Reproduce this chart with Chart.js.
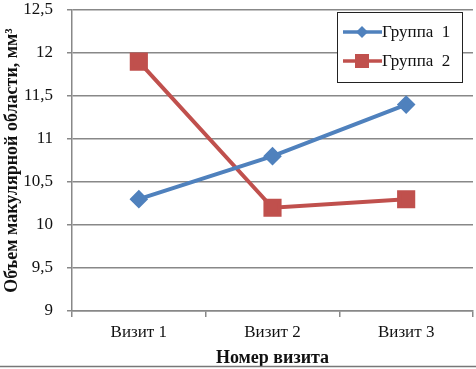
<!DOCTYPE html>
<html lang="ru">
<head>
    <meta charset="UTF-8">
    <title>Объем макулярной области</title>
    <style>
        html, body { margin: 0; padding: 0; background: #fff; }
        #wrap { width: 476px; height: 369px; }
    </style>
</head>
<body>
    <div id="wrap"><canvas id="myChart"></canvas></div>
    <script src="https://cdn.jsdelivr.net/npm/chart.js"></script>
    <script>
        // данные с графика
        const visits = ['Визит 1', 'Визит 2', 'Визит 3'];
        const group1 = [10.3, 10.8, 11.4];
        const group2 = [11.9, 10.2, 10.3];
        const seriesNames = ['Группа  1', 'Группа  2'];
        const yMin = 9, yMax = 12.5, yStep = 0.5;

        const FONT = "'Liberation Serif', 'Times New Roman', serif";
        const blue = '#4F81BD';
        const red = '#C0504D';
        const gridGray = '#888888';

        // легенда в рамке, как в Excel
        const boxLegend = {
            id: 'boxLegend',
            afterDraw(chart) {
                const ctx = chart.ctx;
                const x0 = 337, y0 = 12, w = 125, h = 70;
                ctx.save();
                ctx.fillStyle = '#fff';
                ctx.fillRect(x0, y0, w, h);
                ctx.strokeStyle = '#222';
                ctx.lineWidth = 1;
                ctx.strokeRect(x0 + 0.5, y0 + 0.5, w, h);
                chart.data.datasets.forEach((ds, i) => {
                    const cy = y0 + 20 + i * 29;
                    const mx = x0 + 25;
                    ctx.strokeStyle = ds.borderColor;
                    ctx.lineWidth = 3.5;
                    ctx.beginPath();
                    ctx.moveTo(x0 + 6, cy);
                    ctx.lineTo(x0 + 45, cy);
                    ctx.stroke();
                    ctx.fillStyle = ds.backgroundColor;
                    if (ds.pointStyle === 'rectRot') {
                        ctx.beginPath();
                        ctx.moveTo(mx, cy - 6);
                        ctx.lineTo(mx + 6, cy);
                        ctx.lineTo(mx, cy + 6);
                        ctx.lineTo(mx - 6, cy);
                        ctx.closePath();
                        ctx.fill();
                    } else {
                        ctx.fillRect(mx - 7, cy - 7, 14, 14);
                    }
                    ctx.fillStyle = '#111';
                    ctx.font = '17px ' + FONT;
                    ctx.textBaseline = 'middle';
                    ctx.fillText(ds.label, x0 + 45, cy + 1);
                });
                // нижняя линия рамки рисунка
                ctx.strokeStyle = '#777';
                ctx.lineWidth = 1.5;
                ctx.beginPath();
                ctx.moveTo(0, 366.5);
                ctx.lineTo(476, 366.5);
                ctx.stroke();
                ctx.restore();
            }
        };

        const ctx = document.getElementById('myChart').getContext('2d');
        const myChart = new Chart(ctx, {
            type: 'line',
            data: {
                labels: visits,
                datasets: [
                    {
                        label: seriesNames[0],
                        data: group1,
                        borderColor: blue,
                        backgroundColor: blue,
                        borderWidth: 4,
                        pointStyle: 'rectRot',
                        pointRadius: 6.5,
                        pointHoverRadius: 6.5,
                        tension: 0
                    },
                    {
                        label: seriesNames[1],
                        data: group2,
                        borderColor: red,
                        backgroundColor: red,
                        borderWidth: 4,
                        pointStyle: 'rect',
                        pointRadius: 10,
                        pointHoverRadius: 10,
                        tension: 0
                    }
                ]
            },
            options: {
                responsive: true,
                maintainAspectRatio: false,
                animation: false,
                layout: {
                    autoPadding: false,
                    padding: { top: 10, right: 3, bottom: 0, left: 0 }
                },
                plugins: {
                    legend: { display: false },
                    tooltip: { enabled: false }
                },
                scales: {
                    x: {
                        offset: true,
                        grid: {
                            offset: true,
                            drawOnChartArea: false,
                            color: gridGray,
                            lineWidth: 1.5,
                            tickLength: 6
                        },
                        border: { color: gridGray, width: 1.5 },
                        ticks: {
                            color: '#111',
                            font: { family: FONT, size: 17 },
                            padding: 5
                        },
                        title: {
                            display: true,
                            text: 'Номер визита',
                            color: '#111',
                            font: { family: FONT, size: 18, weight: 'bold' },
                            padding: { top: 0, bottom: 0 }
                        },
                        afterFit(scale) {
                            scale.height = 58;
                            scale.paddingLeft = 0;
                            scale.paddingRight = 0;
                        }
                    },
                    y: {
                        min: yMin,
                        max: yMax,
                        ticks: {
                            stepSize: yStep,
                            color: '#111',
                            font: { family: FONT, size: 17 },
                            padding: 14,
                            callback: v => String(v).replace('.', ',')
                        },
                        grid: {
                            color: gridGray,
                            lineWidth: 1.5,
                            tickLength: 5
                        },
                        border: { color: gridGray, width: 1.5 },
                        title: {
                            display: true,
                            text: 'Объем макулярной области, мм³',
                            color: '#111',
                            font: { family: FONT, size: 18, weight: 'bold' },
                            padding: { top: 2, bottom: 0 }
                        },
                        afterFit(scale) {
                            scale.width = 72;
                            scale.paddingTop = 0;
                            scale.paddingBottom = 0;
                        }
                    }
                }
            },
            plugins: [boxLegend]
        });
    </script>
</body>
</html>
